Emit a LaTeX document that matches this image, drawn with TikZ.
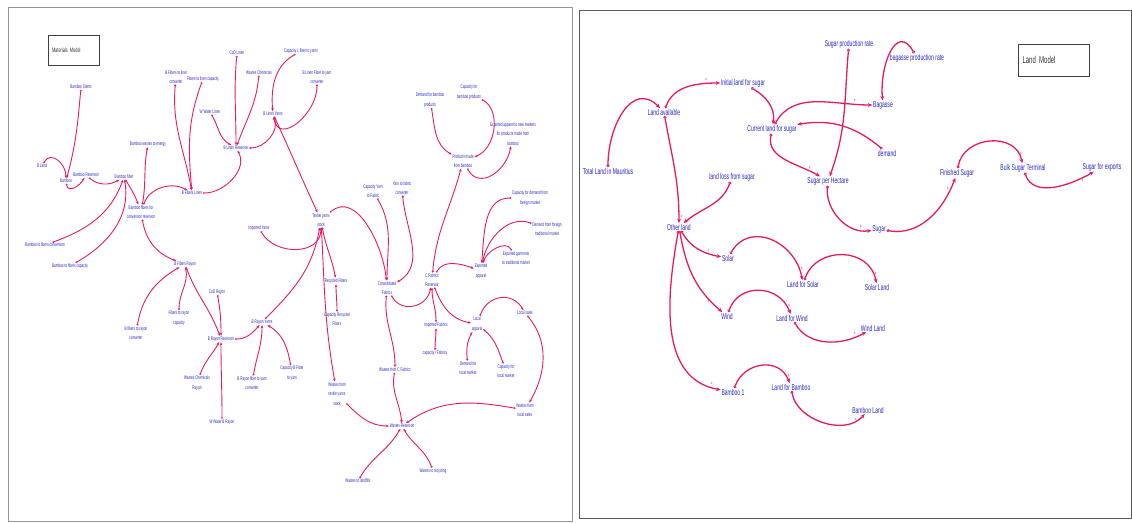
\documentclass[tikz,border=0pt]{standalone}
\usepackage{fontspec}
\usetikzlibrary{arrows.meta}
\newfontfamily\lblfont[FakeStretch=0.6]{Liberation Sans}
\definecolor{linkred}{RGB}{234,26,98}
\definecolor{lblblue}{RGB}{38,38,205}
\definecolor{framegray}{RGB}{150,150,150}

\tikzset{
    lbl/.style = {text = lblblue, align = center, inner sep = 0.6pt,
        font = \lblfont\fontsize{5.2}{9.6}\selectfont},
    rlbl/.style = {lbl, font = \lblfont\fontsize{8.4}{9}\selectfont},
    titlebox/.style = {draw = black!75, line width = 0.7pt, align = left,
        text = black!80, inner sep = 3pt},
    lnk/.style = {draw = linkred, line width = 0.9pt,
        {Circle[open, length = 2pt, width = 2pt, line width = 0.5pt]}-{Stealth[length = 3.2pt, width = 2.6pt]}},
    rlnk/.style = {draw = linkred, line width = 1.3pt,
        {Circle[open, length = 3pt, width = 3pt, line width = 0.8pt]}-{Stealth[length = 4.5pt, width = 3.8pt]}},
    pls/.style = {text = linkred, font = \lblfont\fontsize{6}{6}\selectfont, inner sep = 1pt}
}

\begin{document}
\begin{tikzpicture}[x = 1pt, y = -1pt]

    \useasboundingbox (0,0) rectangle (1132,522);

    % Frames of the two panels.
    \draw[framegray, line width = 0.8pt] (8,7) rectangle (572,521);
    \draw[black!65, line width = 0.8pt] (579,10) rectangle (1131,518);

    % ---------------- Materials model ----------------
    \node[titlebox, minimum width = 51pt, minimum height = 30pt,
        text width = 43pt, font = \lblfont\fontsize{6.5}{7}\selectfont] (mtitle) at (73.5,50) {Materials Model};

    \node[lbl] (bstems) at (81,87) {Bamboo Stems};
    \node[lbl] (bland) at (42,166) {B Land};
    \node[lbl] (bamboo) at (66,181) {Bamboo};
    \node[lbl] (bres) at (86,175) {Bamboo Reservoir};
    \node[lbl] (bfiber) at (124,177) {Bamboo fiber};
    \node[lbl] (bwaste) at (148,144) {Bamboo wastes to energy};
    \node[lbl] (bfconv) at (141,212) {Bamboo fibers for\\conversion reservoir};
    \node[lbl] (btfconv) at (45,245) {Bamboo to fibers conversion};
    \node[lbl] (btfcap) at (70,266) {Bamboo to fibers capacity};

    \node[lbl] (bftl) at (176,77) {B Fibers to liner\\converter};
    \node[lbl] (ftlc) at (203,79) {Fibers to linen capacity};
    \node[lbl] (bflinen) at (192,193) {B Fibers Linen};
    \node[lbl] (wwl) at (210,112) {W Water Linen};
    \node[lbl] (codl) at (237,53) {CoD Linen};
    \node[lbl] (wchem) at (259,73) {Wastes Chemicals};
    \node[lbl] (blres) at (236,148) {B Linen Reservoir};
    \node[lbl] (capl) at (301,51) {Capacity L fiber to yarns};
    \node[lbl] (blfc) at (317,77) {B Linen Fiber to yarn\\converter};
    \node[lbl] (blyarn) at (273,114) {B Linen Yarns};

    \node[lbl] (tys) at (321,220) {Textile yarns\\stock};
    \node[lbl] (impy) at (259,228) {Imported Yarns};
    \node[lbl] (recf) at (336,281) {Recycled Fibers};
    \node[lbl] (caprf) at (337,319) {Capacity Recycled\\Fibers};
    \node[lbl] (cfab) at (387,288) {Consolidated\\Fabrics};
    \node[lbl] (capyf) at (373,191) {Capacity Yarn\\to Fabric};
    \node[lbl] (ytfc) at (402,188) {Yarn to fabric\\converter};
    \node[lbl] (cfres) at (432,280) {C Fabrics\\Reservoir};

    \node[lbl] (dbp) at (430,100) {Demand for bamboo\\products};
    \node[lbl] (cbp) at (469,92) {Capacity for\\bamboo products};
    \node[lbl] (eanm) at (513,134) {Exported apparel to new markets\\for products made from\\bamboo};
    \node[lbl] (pmb) at (463,161) {Products made\\from bamboo};
    \node[lbl] (cdff) at (530,198) {Capacity for demand from\\foreign market};
    \node[lbl] (dfft) at (547,229) {Demand from foreign\\traditional market};
    \node[lbl] (egtm) at (516,258) {Exported garments\\to traditional market};
    \node[lbl] (expapp) at (481,271) {Exported\\apparel};

    \node[lbl] (impf) at (436,325) {Imported Fabrics};
    \node[lbl] (capif) at (435,353) {capacity I Fabrics};
    \node[lbl] (lapp) at (477,324) {Local\\apparel};
    \node[lbl] (lsales) at (525,313) {Local sales};
    \node[lbl] (dlm) at (468,368) {Demand for\\local market};
    \node[lbl] (clm) at (506,371) {Capacity for\\local market};
    \node[lbl] (wls) at (525,410) {Wastes from\\local sales};

    \node[lbl] (wcf) at (395,370) {Wastes from C Fabrics};
    \node[lbl] (wtys) at (337,394) {Wastes from\\textile yarns\\stock};
    \node[lbl] (wres) at (402,426) {Wastes Reservoir};
    \node[lbl] (wlf) at (358,481) {Wastes to landfills};
    \node[lbl] (wrec) at (433,471) {Wastes to recycling};

    \node[lbl] (bfrayon) at (185,264) {B Fibers Rayon};
    \node[lbl] (bftrc) at (136,333) {B fibers to rayon\\converter};
    \node[lbl] (ftrc) at (179,318) {Fibers to rayon\\capacity};
    \node[lbl] (codr) at (217,292) {CoD Rayon};
    \node[lbl] (brres) at (221,339) {B Rayon Reservoir};
    \node[lbl] (wcr) at (197,383) {Wastes Chemicals\\Rayon};
    \node[lbl] (wwbr) at (222,422) {W Water B Rayon};
    \node[lbl] (bryarn) at (262,322) {B Rayon Yarns};
    \node[lbl] (brfyc) at (252,383) {B Rayon fiber to yarn\\converter};
    \node[lbl] (cbfy) at (292,373) {Capacity B Fiber\\to yarn};

    % Links of the materials model.
    \draw[lnk] (bstems) to[out=-95, in=75] (bamboo);
    \draw[lnk] (bland) to[out=60, in=90, looseness=1.4] (bamboo);
    \draw[lnk] (bamboo) to[out=-80, in=-120, looseness=1.3] (bres);
    \draw[lnk] (bres) to[out=-40, in=-150] (bfiber);
    \draw[lnk] (btfconv) to[out=20, in=-110] (bfiber);
    \draw[lnk] (btfcap) to[out=30, in=-80] (bfiber);
    \draw[lnk] (bfiber) to[out=-60, in=110] (bfconv);
    \draw[lnk] (bfconv) to[out=80, in=-100] (bwaste);
    \draw[lnk] (bfconv) to[out=70, in=150] (bflinen);
    \draw[lnk] (bftl) to[out=-95, in=100] (bflinen);
    \draw[lnk] (ftlc) to[out=-110, in=95] (bflinen);
    \draw[lnk] (bflinen) to[out=0, in=-60] (blres);
    \draw[lnk] (wwl) to[out=-60, in=150] (blres);
    \draw[lnk] (codl) to[out=-95, in=90] (blres);
    \draw[lnk] (wchem) to[out=-95, in=70] (blres);
    \draw[lnk] (blres) to[out=0, in=-70] (blyarn);
    \draw[lnk] (capl) to[out=-150, in=95] (blyarn);
    \draw[lnk] (blfc) to[out=-90, in=-80, looseness=1.4] (blyarn);
    \draw[lnk] (blyarn) to[out=-65, in=115] (tys);
    \draw[lnk] (tys) to[out=40, in=95] (cfab);
    \draw[lnk] (capyf) to[out=-60, in=90] (cfab);
    \draw[lnk] (ytfc) to[out=-85, in=30] (cfab);
    \draw[lnk] (impy) to[out=-60, in=-90, looseness=1.2] (tys);
    \draw[lnk] (tys) to[out=-80, in=100] (recf);
    \draw[lnk] (caprf) to[out=90, in=-90] (recf);
    \draw[lnk] (bryarn) to[out=45, in=-100] (tys);
    \draw[lnk] (tys) to[out=-87, in=100] (wtys);
    \draw[lnk] (cfab) to[out=-60, in=-100, looseness=1.3] (cfres);
    \draw[lnk] (cfab) to[out=-95, in=90] (wcf);
    \draw[lnk] (wcf) to[out=-100, in=95] (wres);
    \draw[lnk] (wtys) to[out=-45, in=180] (wres);
    \draw[lnk] (wlf) to[out=60, in=-120] (wres);
    \draw[lnk] (wrec) to[out=110, in=-60] (wres);
    \draw[lnk] (wls) to[out=170, in=35] (wres);
    \draw[lnk] (lsales) to[out=-50, in=60] (wls);
    \draw[lnk] (lapp) to[out=70, in=120, looseness=1.3] (lsales);
    \draw[lnk] (cfres) to[out=-70, in=170] (lapp);
    \draw[lnk] (impf) to[out=90, in=-90] (cfres);
    \draw[lnk] (capif) to[out=90, in=-90] (impf);
    \draw[lnk] (dlm) to[out=95, in=-120] (lapp);
    \draw[lnk] (clm) to[out=110, in=-40] (lapp);
    \draw[lnk] (cfres) to[out=60, in=160] (expapp);
    \draw[lnk] (cdff) to[out=180, in=85] (expapp);
    \draw[lnk] (dfft) to[out=160, in=80] (expapp);
    \draw[lnk] (egtm) to[out=120, in=75] (expapp);
    \draw[lnk] (cfres) to[out=85, in=-105] (pmb);
    \draw[lnk] (dbp) to[out=-80, in=150] (pmb);
    \draw[lnk] (cbp) to[out=-30, in=20] (pmb);
    \draw[lnk] (pmb) to[out=-60, in=-100, looseness=1.3] (eanm);
    \draw[lnk] (bfconv) to[out=-80, in=160] (bfrayon);
    \draw[lnk] (bftrc) to[out=80, in=-150] (bfrayon);
    \draw[lnk] (ftrc) to[out=90, in=-80] (bfrayon);
    \draw[lnk] (bfrayon) to[out=-70, in=110] (brres);
    \draw[lnk] (codr) to[out=-80, in=90] (brres);
    \draw[lnk] (wcr) to[out=70, in=-120] (brres);
    \draw[lnk] (wwbr) to[out=90, in=-90] (brres);
    \draw[lnk] (brres) to[out=0, in=-130] (bryarn);
    \draw[lnk] (brfyc) to[out=80, in=-90] (bryarn);
    \draw[lnk] (cbfy) to[out=100, in=-30] (bryarn);

    % ---------------- Land model ----------------
    \node[titlebox, minimum width = 71pt, minimum height = 32pt,
        text width = 62pt, font = \lblfont\fontsize{10}{11}\selectfont] (ltitle) at (1053.5,60) {Land Model};

    \node[rlbl] (tlm) at (608,171) {Total Land in Mauritius};
    \node[rlbl] (lavail) at (664,112) {Land available};
    \node[rlbl] (ils) at (743,83) {Initial land for sugar};
    \node[rlbl] (cls) at (772,129) {Current land for sugar};
    \node[rlbl] (sph) at (828,181) {Sugar per Hectare};
    \node[rlbl] (lls) at (732,177) {land loss from sugar};
    \node[rlbl] (spr) at (849,44) {Sugar production rate};
    \node[rlbl] (bpr) at (917,58) {bagasse production rate};
    \node[rlbl] (bag) at (883,105) {Bagasse};
    \node[rlbl] (dem) at (887,153) {demand};
    \node[rlbl] (fsugar) at (957,173) {Finished Sugar};
    \node[rlbl] (bst) at (1023,168) {Bulk Sugar Terminal};
    \node[rlbl] (sfe) at (1102,167) {Sugar for exports};
    \node[rlbl] (oland) at (679,227) {Other land};
    \node[rlbl] (sugar) at (879,229) {Sugar};
    \node[rlbl] (solar) at (728,258) {Solar};
    \node[rlbl] (lfs) at (803,284) {Land for Solar};
    \node[rlbl] (sland) at (877,287) {Solar Land};
    \node[rlbl] (wind) at (727,316) {Wind};
    \node[rlbl] (lfw) at (792,318) {Land for Wind};
    \node[rlbl] (wland) at (873,328) {Wind Land};
    \node[rlbl] (bam1) at (733,392) {Bamboo 1};
    \node[rlbl] (lfb) at (791,387) {Land for Bamboo};
    \node[rlbl] (blnd) at (868,410) {Bamboo Land};

    % Links of the land model.
    \draw[rlnk] (tlm) to[out=90, in=135, looseness=1.3] (lavail);
    \draw[rlnk] (lavail) to[out=70, in=180] node[pls, pos=0.8, above] {+} (ils);
    \draw[rlnk] (ils) to[out=-30, in=80] (cls);
    \draw[rlnk] (lavail) to[out=-80, in=90] node[pls, pos=0.95, right] {+} (oland);
    \draw[rlnk] (lls) to[out=-110, in=40] node[pls, pos=0.95, right] {+} (oland);
    \draw[rlnk] (cls) to[out=-100, in=150] node[pls, pos=0.85, above] {+} (sph);
    \draw[rlnk] (spr) to[out=-95, in=70] (sph);
    \draw[rlnk] (cls) to[out=60, in=180] node[pls, pos=0.85, above] {+} (bag);
    \draw[rlnk] (dem) to[out=140, in=10] (cls);
    \draw[rlnk] (bpr) to[out=120, in=95, looseness=1.6] (bag);
    \draw[rlnk] (sph) to[out=-95, in=-170] node[pls, pos=0.85, above] {+} (sugar);
    \draw[rlnk] (sugar) to[out=-10, in=-110] node[pls, pos=0.88, left] {+} (fsugar);
    \draw[rlnk] (fsugar) to[out=80, in=100, looseness=1.3] node[pls, pos=0.88, right] {+} (bst);
    \draw[rlnk] (bst) to[out=-70, in=-150] node[pls, pos=0.85, below] {+} (sfe);
    \draw[rlnk] (oland) to[out=-60, in=170] node[pls, pos=0.75, above] {+} (solar);
    \draw[rlnk] (solar) to[out=60, in=100, looseness=1.3] node[pls, pos=0.9, right] {+} (lfs);
    \draw[rlnk] (lfs) to[out=70, in=100, looseness=1.3] node[pls, pos=0.9, right] {+} (sland);
    \draw[rlnk] (oland) to[out=-80, in=140] node[pls, pos=0.85, left] {+} (wind);
    \draw[rlnk] (wind) to[out=70, in=110, looseness=1.3] node[pls, pos=0.9, right] {+} (lfw);
    \draw[rlnk] (lfw) to[out=-60, in=-150] node[pls, pos=0.85, above] {+} (wland);
    \draw[rlnk] (oland) to[out=-100, in=170] node[pls, pos=0.95, above] {+} (bam1);
    \draw[rlnk] (bam1) to[out=70, in=110, looseness=1.3] node[pls, pos=0.9, right] {+} (lfb);
    \draw[rlnk] (lfb) to[out=-80, in=-130] node[pls, pos=0.9, left] {+} (blnd);

\end{tikzpicture}
\end{document}
